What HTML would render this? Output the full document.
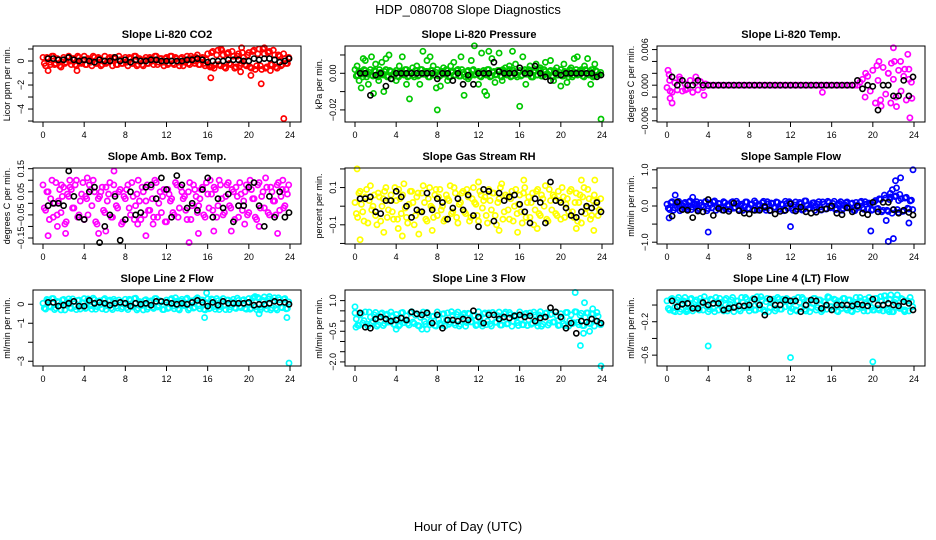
<!DOCTYPE html>
<html><head><meta charset="utf-8"><style>
html,body{margin:0;padding:0;background:#fff;}
svg{display:block;font-family:"Liberation Sans",sans-serif;}
</style></head><body>
<svg id="c" width="936" height="540" viewBox="0 0 936 540">
<text x="468" y="14" text-anchor="middle" font-size="13">HDP_080708  Slope Diagnostics</text>
<text x="468" y="531" text-anchor="middle" font-size="13">Hour of Day (UTC)</text>
</svg>
<script>
const hours=[0,0.25,0.5,0.75,1,1.25,1.5,1.75,2,2.25,2.5,2.75,3,3.25,3.5,3.75,4,4.25,4.5,4.75,5,5.25,5.5,5.75,6,6.25,6.5,6.75,7,7.25,7.5,7.75,8,8.25,8.5,8.75,9,9.25,9.5,9.75,10,10.25,10.5,10.75,11,11.25,11.5,11.75,12,12.25,12.5,12.75,13,13.25,13.5,13.75,14,14.25,14.5,14.75,15,15.25,15.5,15.75,16,16.25,16.5,16.75,17,17.25,17.5,17.75,18,18.25,18.5,18.75,19,19.25,19.5,19.75,20,20.25,20.5,20.75,21,21.25,21.5,21.75,22,22.25,22.5,22.75,23,23.25,23.5,23.75];
const hoursB=[0.125,0.375,0.625,0.875,1.125,1.375,1.625,1.875,2.125,2.375,2.625,2.875,3.125,3.375,3.625,3.875,4.125,4.375,4.625,4.875,5.125,5.375,5.625,5.875,6.125,6.375,6.625,6.875,7.125,7.375,7.625,7.875,8.125,8.375,8.625,8.875,9.125,9.375,9.625,9.875,10.125,10.375,10.625,10.875,11.125,11.375,11.625,11.875,12.125,12.375,12.625,12.875,13.125,13.375,13.625,13.875,14.125,14.375,14.625,14.875,15.125,15.375,15.625,15.875,16.125,16.375,16.625,16.875,17.125,17.375,17.625,17.875,18.125,18.375,18.625,18.875,19.125,19.375,19.625,19.875,20.125,20.375,20.625,20.875,21.125,21.375,21.625,21.875,22.125,22.375,22.625,22.875,23.125,23.375,23.625,23.875];
const blackHours=[0.5,1,1.5,2,2.5,3,3.5,4,4.5,5,5.5,6,6.5,7,7.5,8,8.5,9,9.5,10,10.5,11,11.5,12,12.5,13,13.5,14,14.5,15,15.5,16,16.5,17,17.5,18,18.5,19,19.5,20,20.5,21,21.5,22,22.5,23,23.5,23.9];
const xTicks=[0,4,8,12,16,20,24];

// Panel 1 CO2
const co2Band=[0.3,-0.4,0.2,-0.3,0.4,-0.2,0.1,-0.5,0.3,-0.1,0.4,-0.3,0.2,-0.4,0.3,-0.2,0.4,-0.3,0.1,-0.4,0.3,-0.2,0.2,-0.3,0.4,-0.1,0.3,-0.4,0.2,-0.3,0.1,-0.2,0.3,-0.4,0.2,-0.2,0.4,-0.3,0.1,-0.4,0.3,-0.2,0.2,-0.3,0.4,-0.1,0.2,-0.4,0.3,-0.2,0.4,-0.3,0.2,-0.4,0.3,-0.1,0.4,-0.3,0.2,-0.2,0.5,-0.3,0.3,-0.4,0.6,-0.5,0.8,-0.3,0.9,-0.4,0.5,-0.6,0.7,-0.3,0.4,-0.5,0.6,-0.2,0.3,-0.4,0.7,-0.6,0.9,-0.4,1.0,-0.7,0.6,-0.5,0.8,-0.3,0.5,-0.6,0.4,-0.3,0.2,-0.2];
const co2BandB=[-0.2,0.3,-0.1,0.4,-0.3,0.2,-0.4,0.1,-0.2,0.3,0.0,0.2,-0.3,0.4,-0.1,0.1,-0.3,0.2,-0.1,0.4,-0.2,0.3,-0.4,0.0,-0.2,0.2,0.1,0.3,-0.3,0.4,-0.2,0.1,-0.1,0.3,-0.2,0.4,-0.4,0.2,-0.3,0.1,-0.2,0.3,0.0,0.4,-0.3,0.2,-0.1,0.2,-0.3,0.4,-0.2,0.3,-0.1,0.2,-0.4,0.1,-0.2,0.4,0.0,0.3,-0.3,0.2,-0.2,0.1,-0.4,0.7,-0.6,0.5,-0.3,0.9,-0.5,0.6,-0.2,0.8,-0.6,0.4,-0.4,0.7,-0.3,0.5,-0.5,0.8,-0.7,0.6,-0.4,1.0,-0.6,0.7,-0.3,0.9,-0.5,0.5,-0.4,0.6,-0.2,0.3];
const co2OutH=[0.5,3.3,16.3,16.4,19.2,19.3,20.2,21.2,21.5,22.1,23.4,17.3];
const co2OutV=[-0.8,-0.8,-1.4,-0.5,-0.9,1.1,-1.2,-1.9,1.1,-0.8,-4.8,1.0];
const co2Black=[0.2,0.2,0.1,0.1,0.3,0.1,0.0,0.1,0.0,-0.1,0.1,0.0,0.0,0.3,0.0,0.1,-0.1,0.1,0.0,0.0,0.1,0.1,0.0,0.0,0.0,0.0,0.0,0.1,0.1,0.2,0.1,-0.1,0.0,0.0,0.0,0.1,0.1,0.1,0.0,0.0,0.2,0.1,0.2,0.2,0.1,-0.1,0.0,0.2];

// Panel 2 Pressure
const presBand=[0.002,-0.001,0.001,-0.002,0.0015,-0.0005,0.002,-0.0015,0.001,-0.002,0.0005,-0.001,0.002,-0.0015,0.001,-0.0005,0.0015,-0.002,0.001,-0.001,0.002,-0.0015,0.0005,-0.002,0.0015,-0.001,0.002,-0.0005,0.001,-0.002,0.0015,-0.001,0.002,-0.0015,0.001,-0.0005,0.0015,-0.002,0.001,-0.001,0.002,-0.0015,0.0005,-0.002,0.0015,-0.001,0.002,-0.0005,0.001,-0.002,0.0015,-0.001,0.002,-0.0015,0.001,-0.0005,0.0015,-0.002,0.001,-0.001,0.002,-0.0015,0.0005,-0.002,0.0015,-0.001,0.002,-0.0005,0.001,-0.002,0.0015,-0.001,0.002,-0.0015,0.001,-0.0005,0.0015,-0.002,0.001,-0.001,0.002,-0.0015,0.0005,-0.002,0.0015,-0.001,0.002,-0.0005,0.001,-0.002,0.0015,-0.001,0.002,-0.0015,0.001,-0.0005];
const presBandB=[-0.0015,0.001,-0.0005,0.002,-0.002,0.0005,-0.001,0.0015,-0.0015,0.002,-0.0005,0.001,-0.002,0.0015,-0.001,0.0005,-0.0015,0.001,-0.0005,0.002,-0.002,0.0005,-0.001,0.0015,-0.0015,0.002,-0.0005,0.001,-0.002,0.0015,-0.001,0.0005,-0.0015,0.001,-0.0005,0.002,-0.002,0.0005,-0.001,0.0015,-0.0015,0.002,-0.0005,0.001,-0.002,0.0015,-0.001,0.0005,-0.0015,0.001,-0.0005,0.002,-0.002,0.0005,-0.001,0.0015,-0.0015,0.002,-0.0005,0.001,-0.002,0.0015,-0.001,0.0005,-0.0015,0.001,-0.0005,0.002,-0.002,0.0005,-0.001,0.0015,-0.0015,0.002,-0.0005,0.001,-0.002,0.0015,-0.001,0.0005,-0.0015,0.001,-0.0005,0.002,-0.002,0.0005,-0.001,0.0015,-0.0015,0.002,-0.0005,0.001,-0.002,0.0015,-0.001,0.0005];
const presOutH=[0.2,0.4,0.6,0.8,1.0,1.3,1.6,1.8,2.0,2.3,2.6,2.8,3.0,3.3,3.6,4.0,4.3,4.6,5.0,5.3,5.6,6.0,6.3,6.6,7.0,7.3,7.6,7.9,8.0,8.3,8.6,9.0,9.3,9.6,10.0,10.3,10.6,11.0,11.3,11.6,12.0,12.3,12.6,12.8,13.0,13.3,13.6,14.0,14.3,14.6,15.0,15.3,15.6,16.0,16.3,16.6,17.0,17.3,17.6,18.0,18.5,19.0,19.3,19.6,20.0,20.3,20.6,21.0,21.3,21.6,22.0,22.3,22.6,22.9,23.3,23.9];
const presOutV=[0.004,-0.004,-0.008,0.008,0.007,-0.006,0.009,-0.011,0.005,-0.004,0.006,-0.010,0.008,0.010,-0.003,-0.004,0.004,0.009,-0.006,-0.014,0.003,0.004,-0.006,0.012,0.007,0.009,0.004,-0.008,-0.020,-0.007,0.003,-0.004,0.004,0.006,0.002,0.009,-0.012,-0.003,0.007,0.015,-0.006,0.011,-0.010,-0.012,0.012,0.008,-0.005,0.011,-0.004,0.003,0.004,0.012,0.005,-0.018,0.009,-0.006,0.004,-0.002,0.005,0.003,0.006,0.007,-0.004,0.003,-0.007,0.005,-0.005,0.003,0.008,0.009,0.002,0.004,0.008,-0.006,0.005,-0.025];
const presBlack=[0,0,-0.012,-0.001,0,-0.007,-0.003,0,0,0,0,0,0,0,0,-0.003,0,0,-0.004,0,-0.006,-0.001,-0.006,0,0,0,0.006,0.001,0,0,0,0.003,0,0,0.004,0,-0.002,-0.004,0,-0.001,0,0,0,0,0,0,-0.002,-0.001];

// Panel 3 Temp
const tempBand=[-0.0004,0.0008,-0.0012,0.0004,-0.0008,0.0010,-0.0010,0.0002,-0.0006,0.0008,-0.0012,0.0004,-0.0008,0.0006,-0.0004,0.0002,0,0,0,0,0,0,0,0,0,0,0,0,0,0,0,0,0,0,0,0,0,0,0,0,0,0,0,0,0,0,0,0,0,0,0,0,0,0,0,0,0,0,0,0,0,0,0,0,0,0,0,0,0,0,0,0,0,0,0,0.0005,0.0010,-0.0020,0.0015,-0.0010,0.0025,-0.0030,0.0008,-0.0025,0.0030,-0.0015,0.0020,-0.0030,0.0010,-0.0020,0.0025,-0.0010,0.0015,-0.0025,0.0010,0.0005];
const tempOutH=[0.1,0.2,0.3,0.5,1.2,2.8,3.6,15.1,19.3,20.4,20.6,20.8,21.5,21.8,22.0,22.1,22.3,22.7,23.1,23.4,23.6,23.8,23.5,0.3,1.8];
const tempOutV=[0.0025,0.0018,-0.0022,-0.003,0.0014,0.0014,-0.0017,-0.0012,0.002,0.0033,0.004,-0.0035,0.002,0.0037,0.0063,0.004,-0.0036,0.004,0.0027,0.0052,-0.0055,-0.0022,0.0027,-0.001,-0.0008];
const tempBlack=[0.0014,0,0.0008,0,0,0.0008,0,0,0,0,0,0,0,0,0,0,0,0,0,0,0,0,0,0,0,0,0,0,0,0,0,0,0,0,0,0,0.0008,-0.0006,0,-0.0002,-0.0042,0,0,-0.0018,-0.0018,0.0008,-0.0018,0.0014];

// Panel 4 Amb box temp
const ambBandA=[0.08,-0.03,0.05,0.02,-0.06,0.09,0.01,-0.04,0.07,-0.08,0.03,0.06,-0.02,0.10,-0.05,0.04,-0.07,0.02,0.08,-0.01,0.05,-0.09,0.03,0.07,-0.04,0.01,0.09,-0.06,0.04,-0.02,0.06,-0.08,0.02,0.08,-0.05,0.03,-0.01,0.10,-0.07,0.05,0.01,-0.03,0.07,-0.06,0.09,0.00,-0.04,0.06,-0.08,0.04,0.02,-0.05,0.08,-0.02,0.05,0.03,-0.07,0.09,-0.01,0.06,-0.04,0.02,0.07,-0.06,0.04,0.10,-0.03,0.06,-0.01,0.08,-0.05,0.03,0.09,-0.02,0.05,0.07,-0.06,0.04,0.01,0.08,-0.04,0.06,0.02,-0.07,0.09,0.03,-0.02,0.07,-0.05,0.05,0.01,0.08,-0.03,0.06,-0.01,0.04];
const ambBandB=[-0.02,0.05,-0.07,0.10,0.00,-0.05,0.06,0.03,-0.09,0.04,0.07,-0.02,0.08,-0.06,0.01,0.09,0.03,-0.05,0.06,0.10,-0.08,0.02,0.05,-0.03,0.07,0.04,-0.06,0.08,-0.01,0.05,-0.09,0.03,0.06,-0.02,0.09,-0.07,0.04,0.01,0.07,-0.05,0.08,-0.03,0.02,0.10,-0.06,0.05,0.03,-0.08,0.06,0.01,-0.04,0.09,-0.06,0.07,0.02,-0.03,0.05,-0.07,0.08,0.03,-0.01,0.06,-0.05,0.09,-0.02,0.04,0.07,-0.06,0.10,0.02,-0.04,0.08,-0.01,0.06,-0.07,0.03,0.09,-0.03,0.05,-0.05,0.10,0.02,-0.06,0.08,-0.02,0.05,0.11,-0.04,0.07,0.01,-0.05,0.09,0.03,-0.02,0.06,0.08];
const ambOutH=[0.5,1.4,1.8,2.2,2.6,4.3,5.4,6.1,6.9,9.2,10,10.7,14.2,15.1,16.6,18.3,19.6,21,22.8,23.3];
const ambOutV=[-0.14,-0.1,0.08,-0.13,0.1,0.11,-0.13,-0.12,0.14,-0.09,-0.14,-0.09,-0.17,-0.13,-0.12,-0.12,-0.09,-0.10,-0.13,0.1];
const ambBlack=[-0.01,0.00,0.00,-0.01,0.14,0.03,-0.06,-0.07,0.05,0.07,-0.17,-0.10,-0.05,0.03,-0.16,-0.07,0.05,-0.05,-0.04,0.07,0.08,0.02,0.11,0.06,-0.06,0.12,0.08,-0.02,0.00,-0.03,0.06,0.11,-0.06,0.02,-0.02,0.04,-0.08,-0.01,-0.01,0.07,0.09,-0.01,-0.10,0.03,-0.06,0.05,-0.06,-0.04];

// Panel 5 RH
const rhBandA=[0.02,-0.06,0.08,-0.03,0.05,-0.09,0.11,0.00,-0.05,0.07,-0.08,0.04,0.10,-0.02,0.06,-0.07,0.03,0.09,-0.04,0.12,-0.06,0.01,0.08,-0.10,0.05,-0.03,0.07,0.02,-0.08,0.10,-0.01,0.06,-0.05,0.09,0.00,-0.07,0.04,0.11,-0.03,0.07,-0.09,0.02,0.08,-0.04,0.05,-0.06,0.10,0.01,-0.08,0.06,0.03,-0.05,0.09,-0.02,0.07,-0.10,0.04,0.12,-0.03,0.05,-0.07,0.08,0.00,-0.04,0.06,-0.09,0.10,0.02,-0.06,0.07,-0.02,0.09,-0.05,0.04,0.11,-0.08,0.03,0.06,-0.04,0.08,-0.07,0.05,0.01,-0.03,0.09,-0.06,0.07,0.02,-0.09,0.10,-0.01,0.04,-0.05,0.06,0.03,-0.02];
const rhBandB=[-0.04,0.07,0.01,-0.08,0.09,0.03,-0.02,0.06,-0.10,0.05,0.00,0.08,-0.06,0.03,-0.03,0.10,-0.07,0.04,0.06,-0.01,-0.09,0.08,0.02,-0.05,0.07,-0.03,0.11,-0.07,0.04,0.00,-0.06,0.09,0.05,-0.02,-0.08,0.06,0.03,-0.04,0.10,-0.06,0.01,0.07,-0.03,0.09,-0.08,0.04,0.02,-0.05,0.08,-0.01,0.05,-0.09,0.03,0.07,-0.05,0.02,0.10,-0.07,0.06,-0.02,0.04,-0.08,0.09,0.01,-0.03,0.07,-0.06,0.05,0.02,-0.10,0.08,-0.04,0.06,0.00,-0.07,0.09,-0.02,0.05,-0.05,0.03,0.10,-0.06,0.04,0.08,-0.03,0.02,-0.08,0.06,0.05,-0.04,0.09,-0.07,0.03,0.00,-0.05,0.04];
const rhOutH=[0.2,0.5,2.8,4.6,4.2,6.2,7.5,14,15.8,17.7,21.5,23.2,23.3,22,16.4,12];
const rhOutV=[0.2,-0.18,-0.14,-0.16,-0.12,-0.15,-0.13,-0.13,-0.14,-0.12,-0.12,-0.13,0.14,0.14,0.14,0.13];
const rhBlack=[0.04,0.04,0.05,-0.03,-0.04,0.03,0.03,0.08,0.05,0.00,-0.06,-0.02,-0.03,0.07,-0.02,0.04,0.02,-0.07,-0.01,0.04,-0.02,0.06,-0.05,-0.11,0.09,0.08,-0.08,0.07,0.03,0.05,0.06,0.01,-0.03,-0.09,0.04,0.02,-0.09,0.13,0.03,0.02,-0.01,-0.05,-0.06,-0.03,0.00,-0.01,0.02,-0.03];

// Panel 6 Sample flow
const sampBandA=[0.05,-0.10,0.12,-0.05,0.08,-0.13,0.02,0.10,-0.08,0.14,-0.03,0.06,-0.11,0.09,-0.02,0.13,-0.07,0.04,0.11,-0.12,0.07,-0.04,0.12,-0.09,0.03,0.10,-0.06,0.13,-0.10,0.05,-0.02,0.11,-0.08,0.06,0.14,-0.11,0.02,0.09,-0.05,0.12,-0.13,0.07,-0.03,0.10,-0.09,0.04,0.13,-0.06,0.08,-0.12,0.11,-0.02,0.06,-0.10,0.14,-0.07,0.03,0.09,-0.04,0.12,-0.11,0.05,-0.08,0.10,-0.03,0.13,-0.09,0.07,-0.12,0.04,0.11,-0.06,0.08,-0.13,0.02,0.10,-0.05,0.12,-0.08,0.06,-0.10,0.15,-0.07,0.18,-0.12,0.22,-0.15,0.25,-0.10,0.28,-0.18,0.20,-0.14,0.24,-0.08,0.16];
const sampBandB=[-0.06,0.09,-0.12,0.04,0.13,-0.08,0.07,-0.03,0.11,-0.10,0.05,0.12,-0.07,0.02,0.10,-0.13,0.08,-0.05,0.14,-0.02,0.06,-0.11,0.09,0.03,-0.09,0.12,-0.04,0.07,0.01,-0.12,0.11,-0.06,0.04,-0.10,0.09,0.02,-0.07,0.13,-0.12,0.06,0.08,-0.04,0.11,-0.08,0.05,-0.13,0.07,0.12,-0.05,0.03,-0.09,0.10,-0.11,0.14,0.02,-0.06,0.08,-0.12,0.05,-0.03,0.11,-0.08,0.13,-0.05,0.07,-0.10,0.04,0.12,-0.07,0.09,-0.02,0.06,-0.11,0.10,-0.04,0.13,-0.09,0.05,0.08,-0.12,0.11,-0.08,0.20,-0.16,0.30,-0.12,0.18,-0.20,0.26,-0.10,0.32,-0.15,0.22,-0.06,0.14,-0.10];
const sampOutH=[0.2,0.8,2.5,4.0,12.0,19.8,21.3,21.5,21.7,22.0,22.2,22.3,22.7,23.5,23.9,21.9,22.5];
const sampOutV=[-0.33,0.30,0.24,-0.72,-0.57,-0.69,-0.40,-0.98,0.35,-0.90,0.70,0.50,0.78,-0.47,1.0,0.45,0.15];
const sampBlack=[-0.28,0.11,-0.10,-0.12,-0.32,-0.14,-0.16,0.18,-0.26,-0.07,-0.12,-0.15,0.08,-0.13,-0.20,-0.22,-0.12,-0.12,-0.02,-0.12,-0.22,-0.15,-0.12,0.06,-0.14,-0.03,-0.16,-0.20,-0.17,-0.10,-0.08,0.00,-0.20,-0.24,-0.05,-0.16,0.00,-0.20,-0.24,0.10,-0.16,0.10,0.10,-0.10,-0.20,-0.12,-0.18,-0.25];

// Panel 7 Line 2 flow
const l2Band=[0.05,-0.25,0.20,-0.15,0.30,-0.20,0.10,-0.30,0.25,-0.05,0.28,-0.22,0.15,-0.28,0.22,-0.10,0.30,-0.18,0.12,-0.26,0.24,-0.12,0.18,-0.24,0.30,-0.08,0.22,-0.28,0.16,-0.20,0.10,-0.15,0.26,-0.28,0.20,-0.14,0.32,-0.22,0.08,-0.30,0.24,-0.16,0.18,-0.22,0.30,-0.06,0.14,-0.28,0.22,-0.18,0.30,-0.24,0.16,-0.30,0.26,-0.08,0.32,-0.22,0.18,-0.16,0.34,-0.24,0.22,-0.30,0.28,-0.20,0.24,-0.26,0.18,-0.12,0.30,-0.28,0.22,-0.14,0.26,-0.22,0.20,-0.18,0.24,-0.26,0.30,-0.20,0.36,-0.28,0.30,-0.16,0.38,-0.26,0.28,-0.20,0.34,-0.30,0.24,-0.18,0.30,-0.22];
const l2BandB=[-0.20,0.25,-0.10,0.30,-0.28,0.15,-0.05,0.22,-0.30,0.12,-0.18,0.28,-0.12,0.20,-0.25,0.08,-0.22,0.28,-0.08,0.32,-0.26,0.12,-0.02,0.24,-0.28,0.16,-0.20,0.26,-0.10,0.22,-0.24,0.06,-0.18,0.26,-0.12,0.30,-0.30,0.14,-0.06,0.20,-0.26,0.10,-0.16,0.30,-0.14,0.18,-0.28,0.10,-0.22,0.24,-0.10,0.34,-0.24,0.16,-0.04,0.26,-0.30,0.14,-0.20,0.28,-0.08,0.22,-0.26,0.08,-0.24,0.28,-0.12,0.30,-0.28,0.18,-0.06,0.22,-0.28,0.12,-0.18,0.32,-0.12,0.20,-0.22,0.10,-0.26,0.32,-0.14,0.36,-0.30,0.20,-0.08,0.28,-0.30,0.18,-0.22,0.34,-0.16,0.26,-0.24,0.12];
const l2OutH=[15.7,15.9,20.6,21.0,22.0,23.7,23.9];
const l2OutV=[-0.7,0.6,0.4,-0.5,0.4,-0.7,-3.1];
const l2Black=[0.1,0.1,-0.1,-0.05,0.05,0.15,-0.1,-0.1,0.2,0.05,0.1,0.05,-0.05,0.05,0.1,0.05,-0.1,0.05,0.0,0.05,-0.05,0.15,0.15,0.1,0.05,0.0,0.05,0.0,0.1,0.2,0.1,-0.1,0.1,-0.05,0.15,0.05,0.05,0.05,0.05,0.1,-0.05,0.0,0.0,0.05,0.15,0.1,0.1,0.0];

// Panel 8 Line 3 flow
const l3Band=[0.40,-0.20,0.30,-0.10,0.45,-0.25,0.20,0.00,0.42,-0.18,0.35,-0.22,0.28,-0.05,0.44,-0.15,0.32,-0.24,0.40,-0.08,0.25,-0.20,0.46,-0.12,0.36,-0.25,0.30,-0.02,0.42,-0.18,0.22,-0.22,0.45,-0.10,0.34,-0.24,0.40,-0.06,0.28,-0.20,0.44,-0.15,0.32,-0.25,0.38,-0.04,0.26,-0.22,0.46,-0.12,0.35,-0.18,0.40,-0.24,0.30,-0.06,0.44,-0.20,0.36,-0.14,0.42,-0.25,0.28,-0.08,0.45,-0.18,0.34,-0.22,0.40,-0.10,0.30,-0.24,0.46,-0.16,0.38,-0.20,0.32,-0.05,0.44,-0.22,0.36,-0.12,0.42,-0.25,0.30,-0.08,0.45,-0.18,0.38,-0.22,0.40,-0.10,0.34,-0.24,0.42,-0.15];
const l3BandB=[0.10,-0.22,0.38,0.02,-0.15,0.44,-0.08,0.30,-0.25,0.20,0.40,-0.12,0.34,-0.02,0.26,-0.20,0.12,-0.18,0.42,0.05,-0.12,0.40,-0.05,0.28,-0.22,0.18,0.44,-0.14,0.30,0.00,0.24,-0.24,0.08,-0.20,0.36,0.04,-0.16,0.46,-0.10,0.32,-0.24,0.22,0.38,-0.08,0.36,-0.04,0.28,-0.18,0.14,-0.24,0.40,0.00,-0.14,0.42,-0.06,0.26,-0.20,0.16,0.44,-0.12,0.32,-0.02,0.22,-0.22,0.10,-0.18,0.38,0.06,-0.16,0.44,-0.08,0.30,-0.25,0.20,0.40,-0.10,0.34,-0.04,0.26,-0.20,0.12,-0.22,0.42,0.02,-0.12,0.46,-0.06,0.28,-0.22,0.18,0.40,-0.14,0.36,0.00,0.24,-0.18];
const l3OutH=[0.0,0.1,4.0,6.5,7.0,21.4,21.9,22.2,22.3,22.8,23.1,23.9];
const l3OutV=[0.7,-0.3,-0.4,-0.4,-0.4,1.4,-1.2,-0.6,0.9,-0.5,0.6,-2.2];
const l3Black=[0.4,-0.3,-0.35,0.1,0.2,0.1,0.0,0.05,0.15,0.05,0.45,0.35,0.3,0.4,-0.1,0.3,-0.35,0.05,0.05,0.0,0.1,0.05,0.5,0.2,-0.1,0.3,0.3,0.1,0.2,0.15,0.25,0.3,0.2,0.25,0.0,0.15,0.2,0.65,0.45,0.2,-0.35,-0.1,-0.6,0.0,-0.05,0.1,0.0,-0.1];

// Panel 9 Line 4 flow
const l4Band=[0.05,-0.06,0.08,-0.03,0.06,-0.08,0.02,0.09,-0.05,0.07,-0.07,0.04,-0.02,0.08,-0.06,0.05,-0.08,0.07,-0.04,0.09,-0.06,0.03,-0.07,0.08,-0.02,0.06,-0.08,0.05,-0.05,0.09,-0.03,0.07,-0.07,0.04,-0.06,0.10,-0.04,0.06,-0.08,0.08,-0.03,0.05,-0.07,0.09,-0.05,0.07,-0.02,0.06,-0.08,0.04,-0.06,0.09,-0.04,0.07,-0.07,0.05,-0.03,0.08,-0.06,0.06,-0.08,0.04,-0.05,0.09,-0.02,0.07,-0.07,0.05,-0.04,0.08,-0.06,0.06,-0.08,0.03,-0.05,0.09,-0.03,0.07,-0.07,0.05,-0.06,0.08,-0.04,0.10,-0.07,0.06,-0.05,0.12,-0.08,0.07,-0.03,0.08,-0.06,0.05,-0.07,0.04];
const l4BandB=[-0.04,0.07,-0.07,0.03,0.09,-0.05,0.05,-0.08,0.02,0.08,-0.03,0.06,-0.06,0.04,0.10,-0.02,-0.05,0.06,-0.08,0.04,0.08,-0.04,0.06,-0.07,0.01,0.09,-0.02,0.05,-0.07,0.03,0.09,-0.03,-0.03,0.08,-0.06,0.02,0.10,-0.06,0.04,-0.08,0.03,0.07,-0.04,0.07,-0.05,0.05,0.08,-0.01,-0.04,0.07,-0.07,0.03,0.09,-0.05,0.05,-0.08,0.02,0.08,-0.03,0.06,-0.06,0.04,0.10,-0.02,-0.05,0.06,-0.08,0.04,0.08,-0.04,0.06,-0.07,0.01,0.09,-0.02,0.05,-0.07,0.03,0.09,-0.03,-0.06,0.08,-0.06,0.05,0.11,-0.06,0.07,-0.08,0.03,0.12,-0.04,0.07,-0.06,0.05,0.09,-0.02];
const l4OutH=[0.8,2.0,4.0,12.0,20.0,16.5,21.2,21.6,23.1];
const l4OutV=[-0.08,-0.07,-0.49,-0.63,-0.68,0.03,0.11,-0.08,-0.08];
const l4Black=[0.05,-0.02,0.01,0.02,-0.04,-0.04,0.03,0.0,0.02,0.02,-0.06,-0.04,-0.03,-0.01,-0.01,0.0,0.07,0.0,-0.12,0.07,0.0,0.0,0.06,0.05,0.05,-0.08,0.0,0.06,0.05,-0.04,0.0,-0.06,0.0,0.0,0.0,-0.01,0.01,0.0,-0.01,0.07,0.0,0.0,0.02,0.0,-0.01,0.04,0.02,-0.06];

const NS="http://www.w3.org/2000/svg";
const svg=document.getElementById('c');
function mk(tag,attrs,parent){const e=document.createElementNS(NS,tag);for(const k in attrs)e.setAttribute(k,attrs[k]);(parent||svg).appendChild(e);return e;}

const colX=[33,345,657], rowY=[[46,122],[168,244],[290,366]];
const bandHours=[hours,hoursB];
const panels=[
 {t:"Slope Li-820 CO2",yl:"Licor ppm per min.",c:0,r:0,min:-5.08,max:1.25,ticks:[1,0,-1,-2,-3,-4,-5],labs:{"0":"0","-2":"\u22122","-4":"\u22124"},col:"#ff0000",bands:[co2Band,co2BandB],oh:co2OutH,ov:co2OutV,blk:co2Black,nm:"co2"},
 {t:"Slope Li-820 Pressure",yl:"kPa per min.",c:1,r:0,min:-0.0266,max:0.0149,ticks:[0.01,0,-0.01,-0.02],labs:{"0":"0.00","-0.02":"\u22120.02"},col:"#00c800",bands:[presBand,presBandB],oh:presOutH,ov:presOutV,blk:presBlack,nm:"pressure"},
 {t:"Slope Li-820 Temp.",yl:"degrees C per min.",c:2,r:0,min:-0.0062,max:0.0066,ticks:[0.006,0.004,0.002,0,-0.002,-0.004,-0.006],labs:{"0.006":"0.006","0":"0.000","-0.006":"\u22120.006"},col:"#ff00ff",bands:[tempBand],oh:tempOutH,ov:tempOutV,blk:tempBlack,nm:"li820-temp"},
 {t:"Slope Amb. Box Temp.",yl:"degrees C per min.",c:0,r:1,min:-0.176,max:0.153,ticks:[0.15,0.1,0.05,0,-0.05,-0.1,-0.15],labs:{"0.15":"0.15","0.05":"0.05","-0.05":"\u22120.05","-0.15":"\u22120.15"},col:"#ff00ff",bands:[ambBandA,ambBandB],oh:ambOutH,ov:ambOutV,blk:ambBlack,nm:"amb-temp"},
 {t:"Slope Gas Stream RH",yl:"percent per min.",c:1,r:1,min:-0.203,max:0.205,ticks:[0.2,0.1,0,-0.1,-0.2],labs:{"0.1":"0.1","-0.1":"\u22120.1"},col:"#ffff00",bands:[rhBandA,rhBandB],oh:rhOutH,ov:rhOutV,blk:rhBlack,nm:"rh"},
 {t:"Slope Sample Flow",yl:"ml/min per min.",c:2,r:1,min:-1.05,max:1.05,ticks:[1,0.5,0,-0.5,-1],labs:{"1":"1.0","0":"0.0","-1":"\u22121.0"},col:"#0000ff",bands:[sampBandA,sampBandB],oh:sampOutH,ov:sampOutV,blk:sampBlack,nm:"sample-flow"},
 {t:"Slope Line 2 Flow",yl:"ml/min per min.",c:0,r:2,min:-3.25,max:0.75,ticks:[0,-1,-2,-3],labs:{"0":"0","-1":"\u22121","-3":"\u22123"},col:"#00ffff",bands:[l2Band,l2BandB],oh:l2OutH,ov:l2OutV,blk:l2Black,nm:"line2-flow"},
 {t:"Slope Line 3 Flow",yl:"ml/min per min.",c:1,r:2,min:-2.2,max:1.52,ticks:[1,0.5,0,-0.5,-1,-1.5,-2],labs:{"1":"1.0","-0.5":"\u22120.5","-2":"\u22122.0"},col:"#00ffff",bands:[l3Band,l3BandB],oh:l3OutH,ov:l3OutV,blk:l3Black,nm:"line3-flow"},
 {t:"Slope Line 4 (LT) Flow",yl:"ml/min per min.",c:2,r:2,min:-0.73,max:0.18,ticks:[0,-0.2,-0.4,-0.6],labs:{"-0.2":"\u22120.2","-0.6":"\u22120.6"},col:"#00ffff",bands:[l4Band,l4BandB],oh:l4OutH,ov:l4OutV,blk:l4Black,nm:"line4-flow"}
];

panels.forEach(p=>{
  const L=colX[p.c], R=L+268, T=rowY[p.r][0], B=rowY[p.r][1];
  const g=mk('g',{});
  
  
  const xs=h=>L+10+h*(247/24);
  const ys=v=>T+(p.max-v)/(p.max-p.min)*(B-T);
  const title=mk('text',{x:(L+R)/2,y:T-8,'text-anchor':'middle','font-size':'11','font-weight':'bold'},g);
  title.textContent=p.t;
  
  
  const pts=mk('g',{fill:'none','stroke-width':'1.7'},g);
  
  
  p.bands.forEach((arr,bi)=>{
    const hh=bandHours[bi%2];
    arr.forEach((v,i)=>{
      if(i>=hh.length)return;
      const y=ys(v); if(y<T||y>B)return;
      const c=mk('circle',{cx:xs(hh[i]).toFixed(1),cy:y.toFixed(1),r:'2.6',stroke:p.col},pts);
      
      
    });
  });
  p.ov.forEach((v,i)=>{
    const c=mk('circle',{cx:xs(p.oh[i]).toFixed(1),cy:ys(v).toFixed(1),r:'2.6',stroke:p.col},pts);
    
    
  });
  const bp=mk('g',{fill:'none','stroke-width':'1.6',stroke:'#000'},g);
  
  
  p.blk.forEach((v,i)=>{
    const c=mk('circle',{cx:xs(blackHours[i]).toFixed(1),cy:ys(v).toFixed(1),r:'2.6'},bp);
    
    
  });
  const box=mk('rect',{x:L,y:T,width:R-L,height:B-T,fill:'none',stroke:'#000','stroke-width':'1'},g);
  
  
  xTicks.forEach(t=>{
    const x=xs(t);
    mk('line',{x1:x,y1:B,x2:x,y2:B+5,stroke:'#000'},g);
    const tx=mk('text',{x:x,y:B+16,'text-anchor':'middle','font-size':'9'},g);
    tx.textContent=t;
    
    
  });
  mk('line',{x1:xs(0),y1:B,x2:xs(24),y2:B,stroke:'#000'},g);
  p.ticks.forEach(t=>{
    const y=ys(t);
    mk('line',{x1:L-5,y1:y,x2:L,y2:y,stroke:'#000'},g);
    const key=String(t);
    if(p.labs[key]!==undefined){
      const tx=mk('text',{x:0,y:0,'text-anchor':'middle','font-size':'9',transform:`translate(${L-9},${y}) rotate(-90)`},g);
      tx.textContent=p.labs[key];
      
      
    }
  });
  const yl=mk('text',{x:0,y:0,'text-anchor':'middle','font-size':'9',transform:`translate(${L-23},${(T+B)/2}) rotate(-90)`},g);
  yl.textContent=p.yl;
  
  
});
</script>
</body></html>
